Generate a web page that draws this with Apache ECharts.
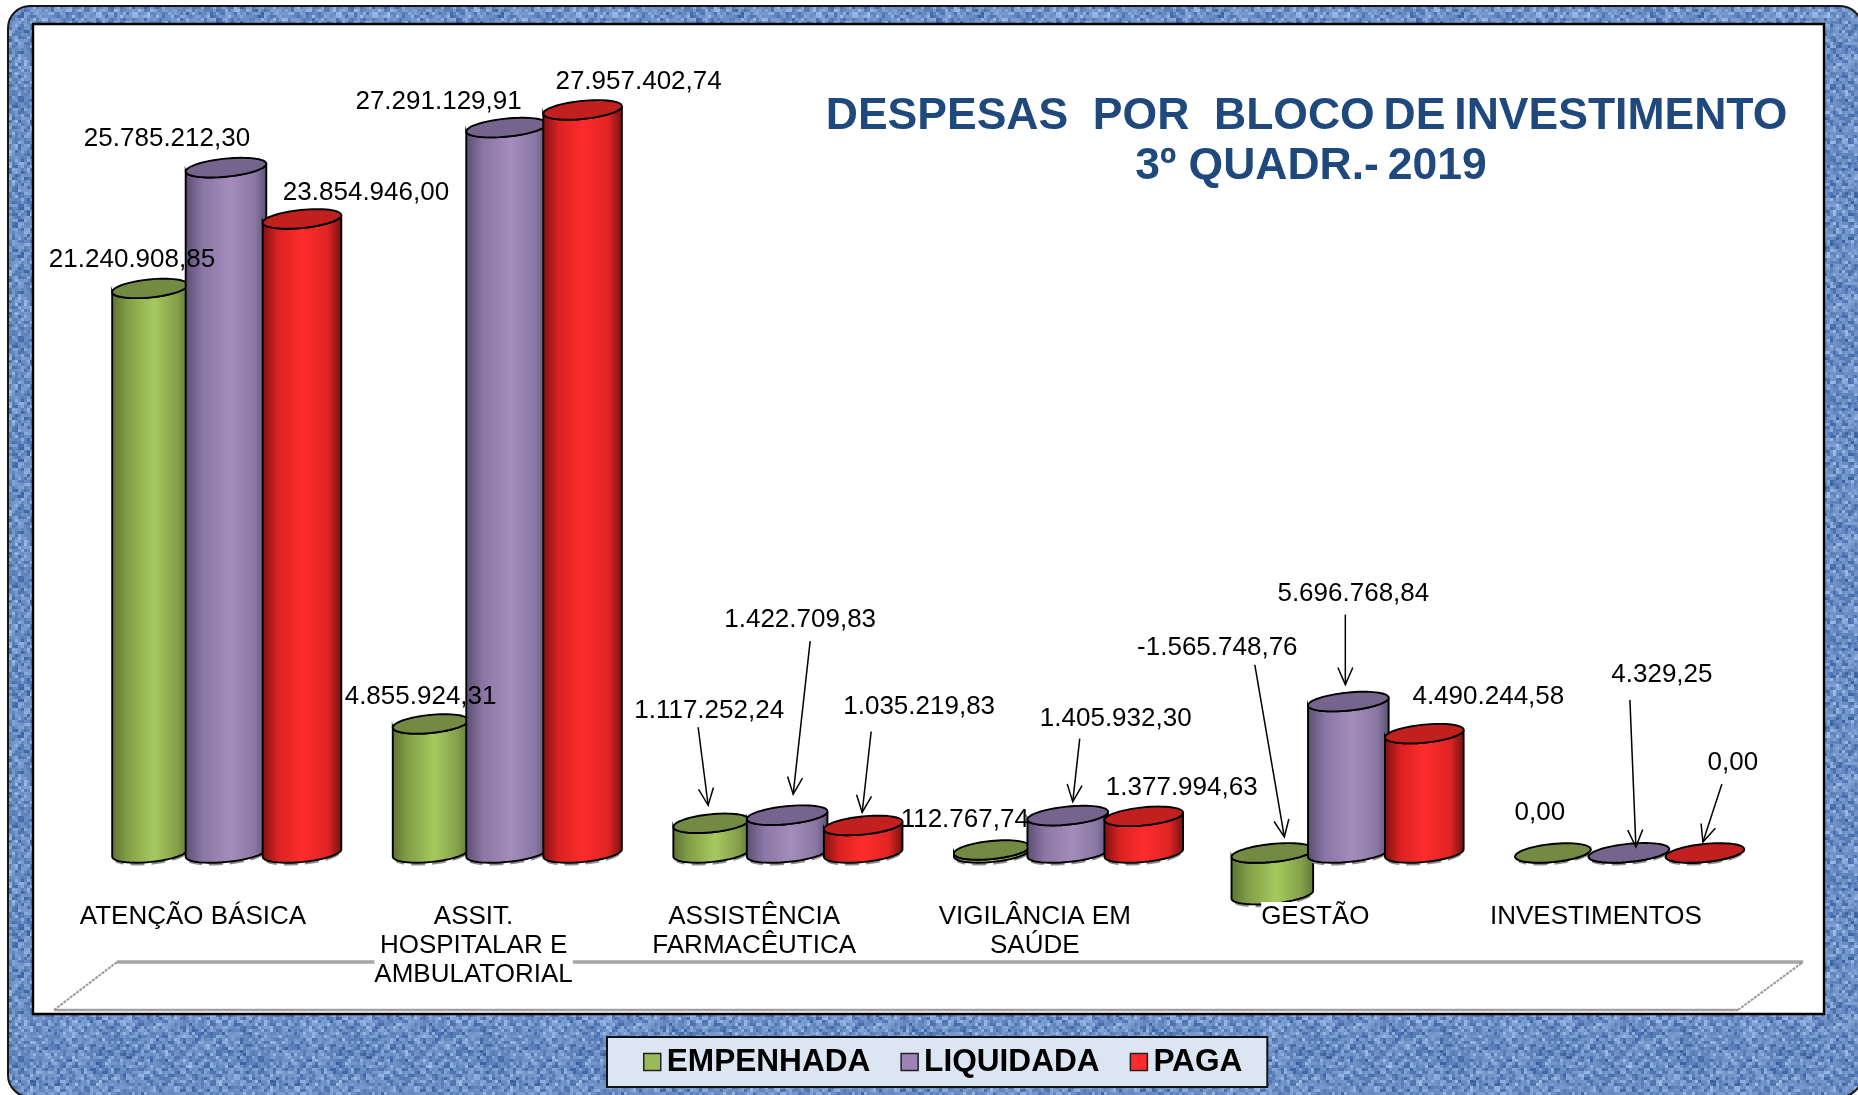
<!DOCTYPE html>
<html><head><meta charset="utf-8">
<style>html,body{margin:0;padding:0;background:#fff;overflow:hidden}#c{width:1858px;height:1095px}</style>
<script src="https://cdn.jsdelivr.net/npm/echarts@6/dist/echarts.min.js"></script>
</head><body><div id="c"></div>
<script>
const categories = ['ATENÇÃO BÁSICA','ASSIT.\nHOSPITALAR E\nAMBULATORIAL','ASSISTÊNCIA\nFARMACÊUTICA','VIGILÂNCIA EM\nSAÚDE','GESTÃO','INVESTIMENTOS'];
const seriesNames = ['EMPENHADA','LIQUIDADA','PAGA'];
const empenhada = [21240908.85,4855924.31,1117252.24,112767.74,-1565748.76,0];
const liquidada = [25785212.30,27291129.91,1422709.83,1405932.30,5696768.84,4329.25];
const paga = [23854946.00,27957402.74,1035219.83,1377994.63,4490244.58,0];
const seriesValues = [empenhada,liquidada,paga];

// layout (pixels relative to the top centre of each cylinder)
const labelOffsets = [
  [[-18,-29],[-10,-27],[-2,-112],[-27,-30],[-55,-205],[-13,-40]],
  [[-59,-29],[-68,-26],[13,-195],[48,-97],[5,-108],[33,-178]],
  [[64,-26],[56,-28],[56,-119],[38,-29],[64,-37],[28,-90]]
];
const leaderOffsets = [
  [null,null,[-13,-96,-3,-18],null,[-17.5,-188,12,-16],null],
  [null,null,[23,-174,6,-21],[12,-77,5,-14],[-3,-87,-3,-17],[1,-153,7,-6]],
  [null,null,[8,-94,-1,-13],null,null,[17,-69,-2,-11]]
];
const barOffset = [-76,0,76], barWidth = [76,81,79], depthShift = 33;
const TILT = 0.1, RY = 9;
const looks = [
  {legend:'#9BBB59',cap:'#738A42',body:[[0,'#5B7232'],[0.22,'#83A047'],[0.55,'#A6C95F'],[0.85,'#84A04A'],[1,'#5E7536']]},
  {legend:'#9C84B8',cap:'#75648E',body:[[0,'#5A4D70'],[0.22,'#8B76A6'],[0.55,'#A48DBC'],[0.85,'#8A77A3'],[1,'#5B4E70']]},
  {legend:'#FF2A2A',cap:'#C21F1F',body:[[0,'#7C1010'],[0.2,'#D92222'],[0.5,'#FF2C2C'],[0.82,'#E02424'],[1,'#701010']]}
];

function fmt(v){
  const s = Math.abs(v).toFixed(2).split('.');
  return (v<0?'-':'') + s[0].replace(/\B(?=(\d{3})+$)/g,'.') + ',' + s[1];
}
function ell(cx,cy,rx,ry,t){
  const c=Math.cos(t), s=Math.sin(t), ca=Math.cos(TILT), sa=Math.sin(TILT);
  return [cx+rx*c*ca+ry*s*sa, cy-rx*c*sa+ry*s*ca];
}
function arc(cx,cy,rx,ry,t0,t1,n){
  const out=[];
  for(let i=0;i<=n;i++) out.push(ell(cx,cy,rx,ry,t0+(t1-t0)*i/n));
  return out;
}
function cylinder(si){
  return function(params,api){
    const cat=api.value(0), v=api.value(1);
    const w=(v<0)?82:barWidth[si], rx=w/2;
    const cx=api.coord([cat,0])[0]+depthShift+barOffset[si];
    const yZero=api.coord([cat,0])[1], yVal=api.coord([cat,v])[1];
    const yT=Math.min(yZero,yVal), yB=Math.max(yZero,yVal);
    const look=looks[si], kids=[];
    const z=10+si*10;
    kids.push({type:'polyline',z2:z-1,shape:{points:arc(cx,yB+1.6,rx-1,RY,0.35,Math.PI-0.35,24)},style:{stroke:'#8C8C8C',lineWidth:2.4,lineDash:[14,7],fill:null}});
    kids.push({type:'polygon',z2:z,shape:{points:arc(cx,yB,rx,RY,0,Math.PI,32).concat(arc(cx,yT,rx,RY,Math.PI,0,32))},
      style:{fill:{type:'linear',x:0,y:0,x2:1,y2:0,colorStops:look.body.map(p=>({offset:p[0],color:p[1]}))},stroke:'#000',lineWidth:1.9}});
    kids.push({type:'polygon',z2:z+1,shape:{points:arc(cx,yT,rx,RY,0,Math.PI*2,64)},style:{fill:look.cap,stroke:'#000',lineWidth:1.9}});
    const lo=labelOffsets[si][cat];
    kids.push({type:'text',z2:100,style:{x:cx+lo[0],y:yT+lo[1],text:fmt(v),font:'26px "Liberation Sans"',fill:'#000',align:'center',verticalAlign:'middle'}});
    const lead=leaderOffsets[si][cat];
    if(lead){
      const x1=cx+lead[0],y1=yT+lead[1],x2=cx+lead[2],y2=yT+lead[3];
      const L=Math.hypot(x2-x1,y2-y1),ux=(x2-x1)/L,uy=(y2-y1)/L,hl=17,hw=7.5;
      kids.push({type:'line',z2:100,shape:{x1,y1,x2,y2},style:{stroke:'#000',lineWidth:1.5}});
      kids.push({type:'polyline',z2:100,shape:{points:[[x2-ux*hl-uy*hw,y2-uy*hl+ux*hw],[x2,y2],[x2-ux*hl+uy*hw,y2-uy*hl-ux*hw]]},style:{stroke:'#000',lineWidth:1.5,fill:null}});
    }
    return {type:'group',children:kids};
  };
}

// woven blue texture (decorative only)
function weave(){
  const S=240,raw=document.createElement('canvas');raw.width=raw.height=S;
  const g=raw.getContext('2d');
  const h=(a,b)=>{const x=Math.sin(a*127.1+b*311.7)*43758.5453;return x-Math.floor(x);};
  const C=3;
  for(let j=0;j<S/C;j++)for(let i=0;i<S/C;i++){
    const n=h(i,j), woven=((i%4<2)===(j%4<2))?1:-1;
    const blot=h(Math.floor(i/5),Math.floor(j/3));
    let t=0.50+0.42*(n-0.5)+0.10*woven+0.16*(blot-0.5);
    t=Math.max(0,Math.min(1,t));
    const r=Math.round(38+t*(178-38)),gg=Math.round(80+t*(205-80)),b=Math.round(148+t*(245-148));
    g.fillStyle=`rgb(${r},${gg},${b})`;g.fillRect(i*C,j*C,C,C);
  }
  const c=document.createElement('canvas');c.width=c.height=S;
  const q=c.getContext('2d');
  q.filter='blur(0.7px)';
  for(const dx of [-S,0,S])for(const dy of [-S,0,S])q.drawImage(raw,dx,dy);
  return c;
}

const chart=echarts.init(document.getElementById('c'),null,{renderer:'canvas',width:1858,height:1095});
chart.setOption({
  animation:false,
  backgroundColor:'#fff',
  title:{text:'DESPESAS  POR  BLOCO\u2009DE\u2009INVESTIMENTO\u2009\n3º QUADR.-\u20092019',left:1306,top:87,textAlign:'center',z:6,
    textStyle:{fontFamily:'"Liberation Sans"',fontSize:44.5,fontWeight:'bold',color:'#1F497D',lineHeight:50}},
  legend:{show:true,left:607,top:1037,orient:'horizontal',itemWidth:17,itemHeight:17,itemGap:30,z:6,
    padding:[8,25,8,36],backgroundColor:'#DCE6F2',borderColor:'#111',borderWidth:2,selectedMode:false,
    textStyle:{fontFamily:'"Liberation Sans"',fontSize:31.6,fontWeight:'bold',color:'#000',lineHeight:32,padding:[2,0,0,1]},
    data:seriesNames.map((n,i)=>({name:n,icon:'rect',itemStyle:{color:looks[i].legend,borderColor:'#222',borderWidth:1.5}}))},
  grid:{left:52.7,width:1683.5,top:87.5,height:808},
  xAxis:{type:'category',data:categories,boundaryGap:true,z:3,
    axisLine:{show:false},axisTick:{show:false},splitLine:{show:false},
    axisLabel:{interval:0,margin:6.5,fontFamily:'"Liberation Sans"',fontSize:26,lineHeight:29,color:'#000',backgroundColor:'#fff',align:'center'}},
  yAxis:{type:'value',min:-1600000,max:28800000,show:false},
  graphic:{elements:[
    {type:'rect',z:-10,shape:{x:8,y:6,width:1854,height:1091,r:22},style:{fill:{image:weave(),repeat:'repeat'},stroke:'#151515',lineWidth:2}},
    {type:'rect',z:-9,shape:{x:33,y:24,width:1791,height:990},style:{fill:'#fff',stroke:'#000',lineWidth:2.4}},
    {type:'line',z:-8,shape:{x1:117,y1:962,x2:1803,y2:962},style:{stroke:'#A6A6A6',lineWidth:3.5}},
    {type:'line',z:-8,shape:{x1:54,y1:1010,x2:1738,y2:1010},style:{stroke:'#A0A0A0',lineWidth:2.5}},
    {type:'line',z:-8,shape:{x1:54,y1:1010,x2:117,y2:962},style:{stroke:'#9A9A9A',lineWidth:2,lineDash:[3,1]}},
    {type:'line',z:-8,shape:{x1:1738,y1:1010,x2:1803,y2:962},style:{stroke:'#9A9A9A',lineWidth:2,lineDash:[3,1]}}
  ]},
  series:seriesNames.map((n,si)=>({
    type:'custom',name:n,coordinateSystem:'cartesian2d',z:2,silent:true,clip:false,
    itemStyle:{color:looks[si].legend},
    encode:{x:0,y:1},
    renderItem:cylinder(si),
    data:seriesValues[si].map((v,i)=>[i,v])
  }))
});
</script></body></html>
